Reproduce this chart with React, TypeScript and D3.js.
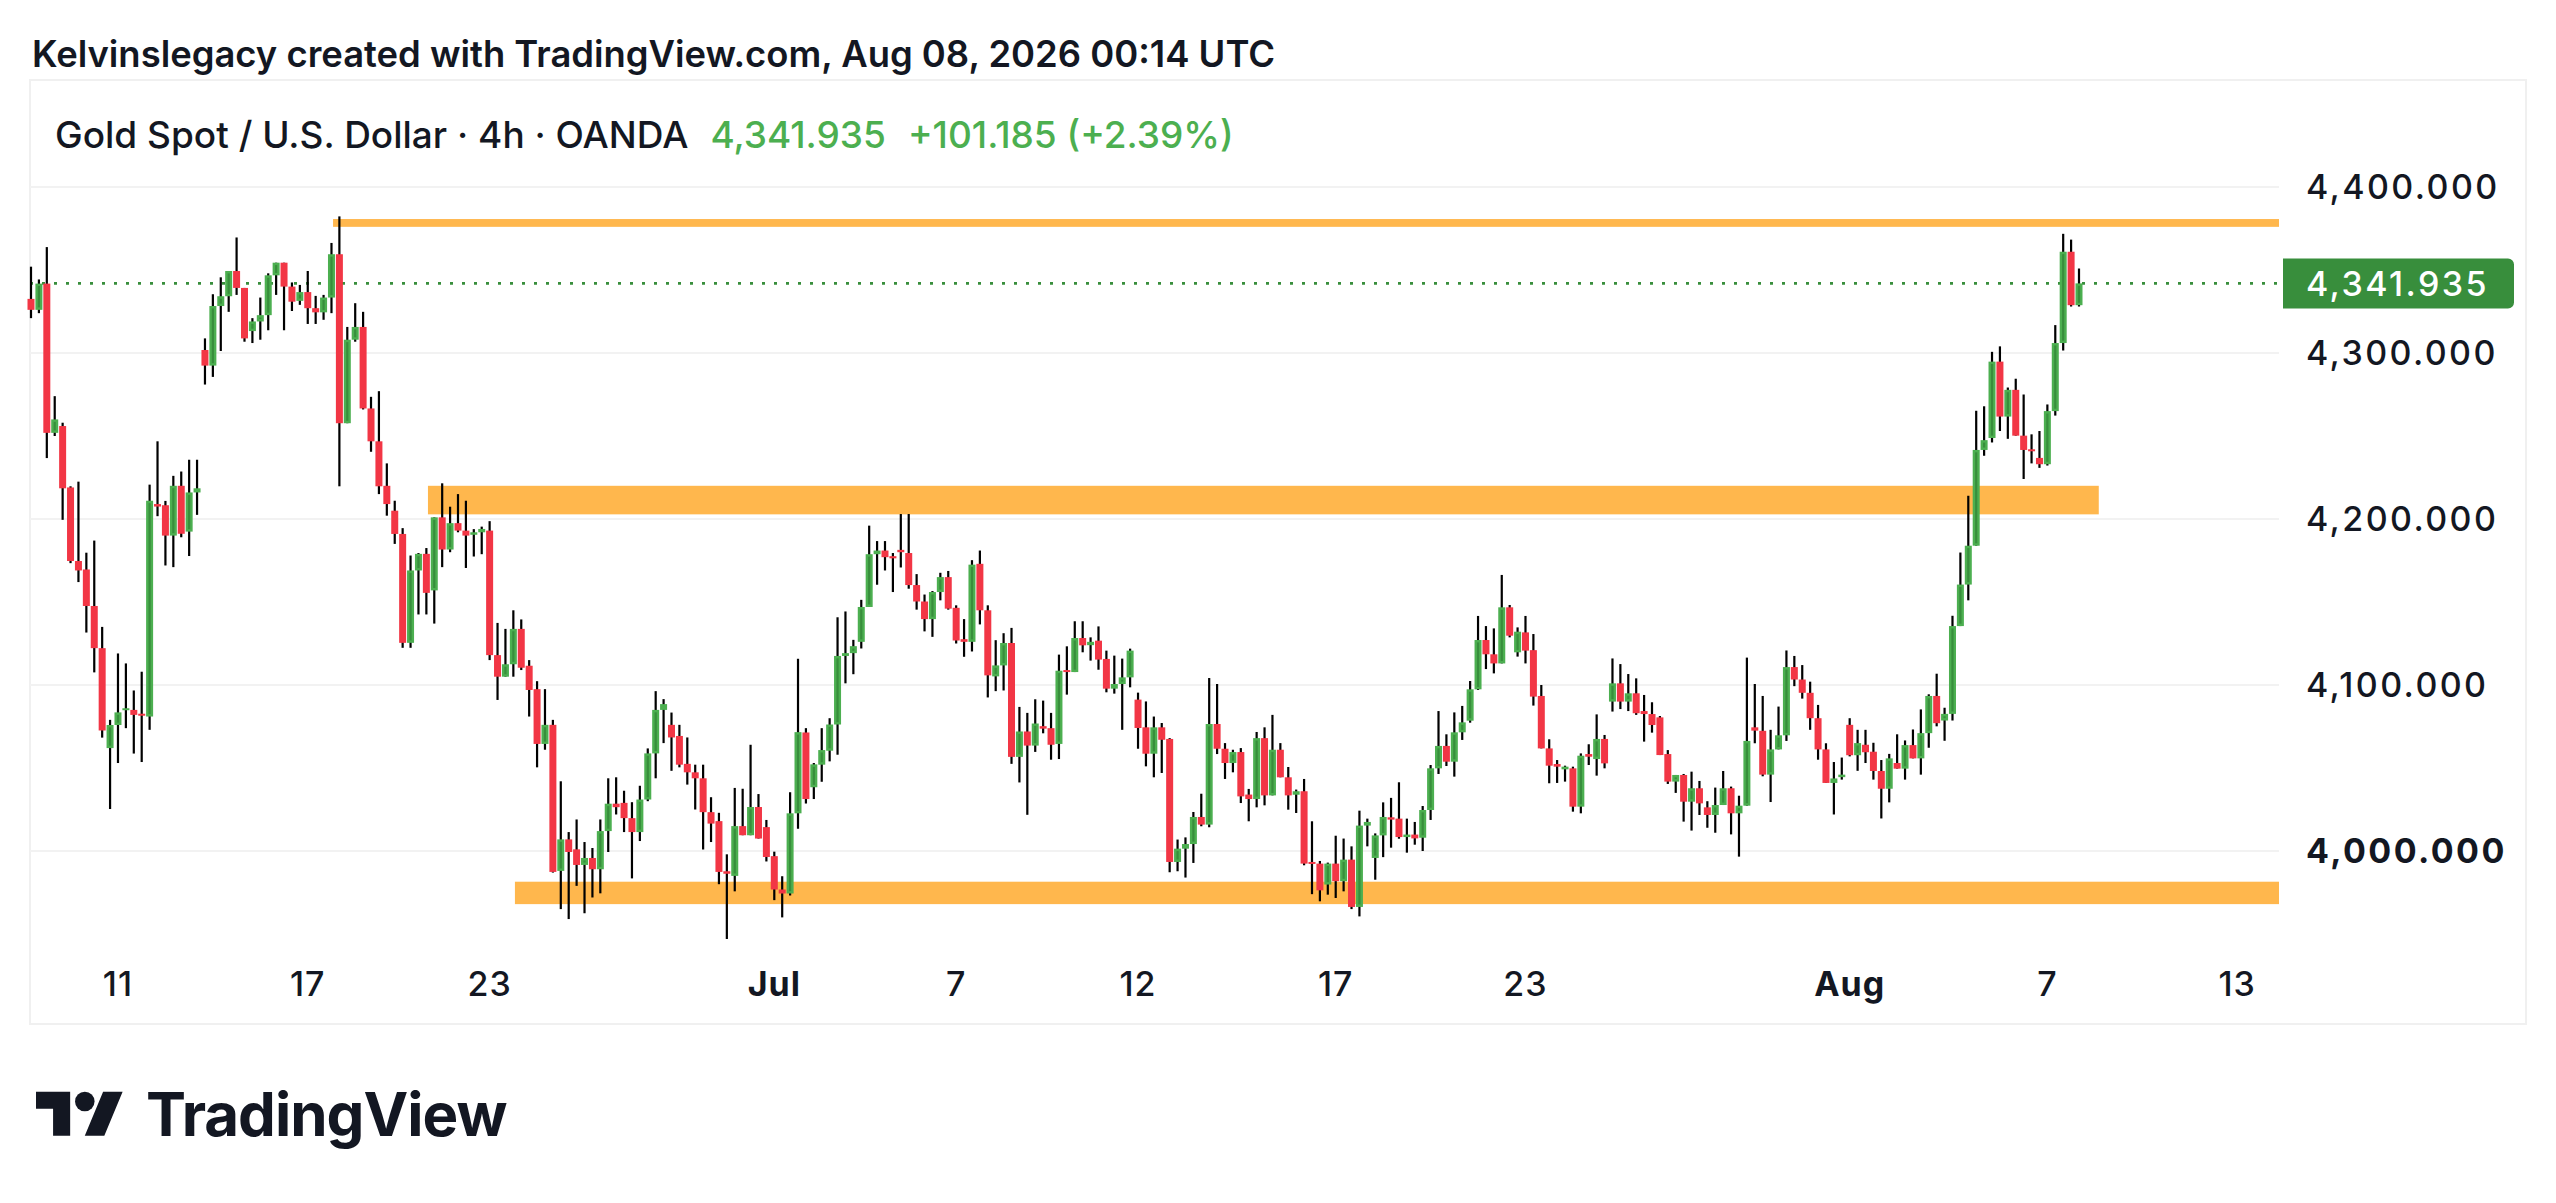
import * as d3 from 'd3';

// 4h candles, XAUUSD (OANDA)
const opens = [
  4332.6, 4326, 4341.8, 4251.9, 4256, 4219, 4174.7, 4169.6, 4147.6, 4122.2,
  4062, 4075.9, 4085, 4085, 4082.7, 4081, 4209, 4208.3, 4190, 4220,
  4192.4, 4216, 4301.8, 4292.4, 4328.3, 4334.2, 4349.4, 4339.2, 4313.2, 4319,
  4322.8, 4346.8, 4354.4, 4340, 4331.4, 4336.7, 4327, 4324.5, 4333.4, 4359.5,
  4257.7, 4308, 4315.7, 4266.6, 4246.8, 4220, 4205, 4191, 4125.4, 4169,
  4179, 4157, 4201, 4181.6, 4197.5, 4193, 4190.5, 4192, 4193, 4118,
  4105, 4112.5, 4133.8, 4111.6, 4097.5, 4064.5, 4076, 3988, 4007, 4001,
  3991.6, 3995.8, 3989, 4012, 4028.5, 4029, 4019.8, 4011.4, 4031, 4058.8,
  4085, 4076, 4069.3, 4052.5, 4047.4, 4043.8, 4023.4, 4018, 3987.8, 3985,
  4015, 4009.5, 4026.5, 4014.4, 3996.9, 3976.8, 3974.4, 4022.7, 4071.4, 4038.4,
  4052, 4060.4, 4076.2, 4117.5, 4119.2, 4126, 4147, 4178.8, 4181, 4177.6,
  4181.4, 4179.5, 4160.2, 4150.3, 4139.7, 4156, 4165, 4146.5, 4127.6, 4126,
  4173, 4145, 4105.2, 4111.8, 4125.3, 4056.7, 4072, 4063.5, 4075.2, 4074,
  4064.5, 4109, 4107.8, 4128.3, 4124, 4126.7, 4115.7, 4097.8, 4100.6, 4104.6,
  4091.2, 4074.5, 4058.6, 4074.5, 4067.5, 3993.4, 4001.4, 4004.2, 4020.5, 4015.9,
  4076.5, 4061.6, 4053, 4059.6, 4034, 4031.3, 4068, 4033.5, 4061, 4044.4,
  4033.9, 4036, 3993.4, 3992.4, 3979.8, 3992.4, 3981.8, 3994.8, 3966.3, 4015.3,
  3995.8, 4009.4, 4020.3, 4019.5, 4008.4, 4009.9, 4008, 4024.7, 4049.8, 4063.3,
  4053.8, 4071.5, 4078.5, 4097.4, 4127.1, 4118.5, 4113, 4146.8, 4119.7, 4131.7,
  4121, 4093.4, 4061.8, 4052.4, 4049.2, 4049.8, 4026.7, 4058.4, 4055.4, 4067.5,
  4090, 4101, 4090, 4095, 4084.3, 4082.5, 4080.5, 4058.4, 4041.8, 4045.8,
  4029.7, 4037.8, 4026.3, 4021.7, 4027.7, 4037.8, 4022.7, 4027.3, 4074.5, 4072.4,
  4046, 4061.2, 4069.7, 4110.8, 4103.3, 4095.3, 4080, 4061.2, 4041, 4044.5,
  4076, 4057.7, 4064, 4059.8, 4048.2, 4037.5, 4053, 4049.6, 4063.8, 4055.8,
  4071, 4093.4, 4078.6, 4082.6, 4135.5, 4160.5, 4183.9, 4241.6, 4248.8, 4294.8,
  4261.7, 4277.8, 4250.2, 4242, 4236.8, 4233, 4265, 4306, 4361, 4328.8,
];
const highs = [
  4352, 4344.3, 4363.8, 4274, 4258, 4219.7, 4222.5, 4179.7, 4187, 4135,
  4079, 4119, 4113, 4096.7, 4108, 4220.7, 4246.8, 4210.9, 4226, 4228.6,
  4235.7, 4235.7, 4308.8, 4335.4, 4345.6, 4349.4, 4369.6, 4339.2, 4321, 4333.4,
  4348, 4354.4, 4354.4, 4342.5, 4341, 4349.4, 4334.4, 4335, 4366.3, 4382.3,
  4315.7, 4330, 4324.8, 4273.6, 4277, 4233.5, 4211, 4194.5, 4178, 4179.5,
  4182.5, 4201, 4221.5, 4207.4, 4215, 4211, 4193.9, 4195.4, 4198.7, 4137.4,
  4133.8, 4145, 4139.5, 4115, 4102.3, 4097.5, 4079, 4042, 4011.4, 4019,
  4005.4, 4001.8, 4019, 4043.8, 4044.4, 4036.3, 4029.4, 4039.3, 4061.8, 4096.3,
  4091.5, 4083.4, 4076, 4068.4, 4052, 4052, 4032.4, 4023, 3998, 4038,
  4037.5, 4064, 4034.3, 4018.7, 3999.6, 3984.8, 4035.4, 4115.8, 4074, 4053,
  4074, 4080, 4140.8, 4144.3, 4127.2, 4151.3, 4196, 4186.7, 4186.7, 4179.5,
  4203, 4203, 4166.8, 4154.5, 4156.6, 4167.6, 4168.7, 4148, 4139.7, 4175.2,
  4181, 4148, 4127, 4131.2, 4134.4, 4086.8, 4083.2, 4091.4, 4090.6, 4083.2,
  4118.3, 4123.3, 4138.4, 4138.4, 4128.7, 4135.3, 4120.7, 4117.7, 4115.9, 4121.9,
  4095.4, 4090.1, 4081, 4077.1, 4068, 4006.9, 4008.2, 4023.5, 4034.5, 4104.2,
  4100.6, 4065, 4061, 4062, 4037.4, 4071.7, 4074.5, 4082, 4065, 4050.6,
  4037, 4043.4, 4017.9, 3994, 3993, 4009.2, 4007.5, 4002.8, 4024.3, 4019.5,
  4010.6, 4029.3, 4032, 4041.4, 4019.5, 4017.5, 4027.1, 4051.8, 4084.3, 4070.3,
  4083.5, 4087.4, 4102.4, 4141.6, 4135.5, 4134.1, 4166.3, 4148.2, 4134.7, 4141.6,
  4130.7, 4100, 4067.3, 4054.8, 4051.4, 4050.8, 4058.8, 4064.3, 4082.3, 4069.9,
  4116, 4112.6, 4106.6, 4104, 4094, 4089.6, 4081.3, 4060.8, 4045.8, 4046.4,
  4047.8, 4042.2, 4030, 4038.2, 4048.2, 4038.8, 4033.3, 4116.5, 4100.6, 4093.4,
  4073, 4087, 4120.8, 4117.5, 4112, 4102, 4088, 4064.9, 4053.6, 4056.3,
  4080, 4073, 4073, 4065.2, 4054.8, 4058.5, 4070.3, 4066.6, 4073.2, 4085.3,
  4094.4, 4106.8, 4086.3, 4141.7, 4179.8, 4214, 4265.2, 4267.9, 4300.7, 4304,
  4279.2, 4284.5, 4275, 4251, 4253, 4269, 4316.8, 4371.8, 4368.3, 4350.9,
];
const lows = [
  4321, 4324, 4236.7, 4250, 4199.5, 4173.4, 4162, 4131.6, 4107.6, 4068.3,
  4025.3, 4053, 4074, 4058.7, 4053.6, 4073, 4201.7, 4172, 4171, 4189,
  4177.7, 4202.5, 4281, 4285.6, 4301.2, 4324.8, 4335, 4306.8, 4306, 4308,
  4313.7, 4335, 4313.7, 4325.3, 4329, 4317.5, 4317.5, 4320, 4324, 4219.7,
  4257.7, 4306.8, 4266, 4240.5, 4215, 4202, 4185, 4122.4, 4122.4, 4142.5,
  4142.5, 4137, 4171, 4180, 4192, 4170.5, 4177.4, 4178.8, 4115, 4091,
  4105, 4105, 4109, 4081, 4050.4, 4061, 3987, 3965, 3959, 3979,
  3962.5, 3972, 3974.5, 3999.4, 4022, 4011.4, 3983.5, 4006, 4030, 4043.8,
  4065, 4048.3, 4050.4, 4040, 4025, 4000.9, 4005.4, 3980, 3947, 3975.7,
  4009.5, 4009.5, 4007.5, 3993.7, 3970.4, 3960, 3973.2, 4013.4, 4028.6, 4031.3,
  4041.7, 4054, 4058, 4101, 4106.5, 4122, 4147, 4160.4, 4169, 4156,
  4170.8, 4158, 4145.4, 4132.3, 4129, 4151, 4145.4, 4125, 4117, 4120.2,
  4136.5, 4092.5, 4096.3, 4096.7, 4052.5, 4041.3, 4021.8, 4059.7, 4070.9, 4055,
  4055.4, 4094.2, 4107.8, 4119.7, 4114.7, 4109.2, 4095.6, 4094.8, 4073, 4098.6,
  4061.6, 4051, 4044.4, 4047, 3987.2, 3987.8, 3984, 3992.8, 4014.9, 4014.3,
  4058.4, 4043.4, 4047.4, 4028.9, 4017.9, 4026.3, 4027.5, 4033.5, 4044.4, 4024.9,
  4022.9, 3991.4, 3974, 3969.7, 3973.7, 3971.7, 3975.7, 3965, 3960.6, 4002.8,
  3982.7, 3996.3, 4002, 4007.4, 3999, 4003.8, 4000, 4018.7, 4046.4, 4051.2,
  4044.8, 4066.9, 4077.3, 4097, 4109.6, 4107, 4113, 4128.7, 4117.1, 4113,
  4087.6, 4061.8, 4040.8, 4041, 4041.8, 4023.7, 4022.7, 4051.8, 4045.4, 4049.8,
  4084, 4085.5, 4084.3, 4082, 4065.9, 4071.3, 4057.8, 4040.4, 4035, 4017.7,
  4012.3, 4021.7, 4014, 4011, 4027.7, 4010, 3996.6, 4027.3, 4064.9, 4045,
  4029.5, 4061.2, 4066.3, 4099.3, 4091.8, 4073, 4055, 4041, 4022, 4043,
  4057, 4048.3, 4053, 4043, 4019.6, 4029.3, 4049.6, 4043, 4055.8, 4046,
  4062.2, 4075.1, 4066.4, 4078.6, 4135.5, 4151, 4183.9, 4238.1, 4246.1, 4253,
  4248.3, 4250.2, 4224.1, 4233.5, 4230.8, 4232.2, 4262.3, 4301.5, 4328, 4328,
];
const closes = [
  4326, 4341.8, 4251.9, 4260, 4218.5, 4174.7, 4169, 4147.6, 4122.2, 4072.6,
  4075.9, 4083.5, 4086, 4082, 4081.5, 4211, 4207.5, 4190, 4220, 4191.1,
  4216, 4218.5, 4292.4, 4328.3, 4334.2, 4349.4, 4339.2, 4308.8, 4319, 4322.8,
  4346.8, 4354.4, 4340, 4330.9, 4336.7, 4327, 4324.5, 4333.4, 4359.5, 4257.7,
  4308, 4315.7, 4266.6, 4246.8, 4219.7, 4209, 4191, 4125.4, 4169, 4179,
  4155.5, 4201, 4181.6, 4197.5, 4193, 4190, 4192, 4194, 4118, 4105,
  4112.5, 4133.8, 4110.4, 4097, 4064.5, 4076, 3987.4, 4007, 3999.4, 3991.6,
  3995.8, 3989, 4012, 4028.5, 4026.4, 4019.8, 4011.4, 4031, 4058.8, 4085,
  4088.5, 4068.4, 4052, 4047.4, 4043.8, 4023.4, 4016.5, 3987.4, 3986.3, 4015,
  4009.5, 4026.5, 4007.5, 3996.4, 3976.8, 3974.4, 4022.7, 4071.6, 4031.3, 4052.2,
  4060.8, 4076.2, 4117.5, 4119.2, 4123.4, 4147, 4178.8, 4181, 4177, 4176.3,
  4180, 4160.2, 4150.3, 4139.7, 4156, 4165, 4146, 4126.8, 4126, 4172.5,
  4145, 4105.8, 4111.8, 4125.3, 4056.7, 4072, 4063.5, 4076.8, 4073.7, 4064,
  4108.6, 4107.8, 4128.3, 4123.9, 4126, 4115.3, 4097.8, 4100.6, 4104.6, 4120.7,
  4074.1, 4058.6, 4074.5, 4067, 3993.4, 4001.4, 4004.2, 4020.5, 4015.9, 4076.5,
  4061.6, 4053, 4059.6, 4032.9, 4031.3, 4068, 4033.5, 4061, 4044.4, 4033.5,
  4036, 3992.4, 3992.2, 3976.3, 3992.4, 3981.8, 3994.8, 3966.3, 4015.3, 4017.5,
  4009.4, 4020.5, 4018.9, 4008.4, 4009.9, 4007.6, 4024.7, 4049.8, 4063.3, 4053.8,
  4071.5, 4077.5, 4097.4, 4127.1, 4118.5, 4113, 4146.8, 4129.7, 4132.1, 4120.7,
  4093, 4061.8, 4051.4, 4050.8, 4050.8, 4026.7, 4057.4, 4056.8, 4067.5, 4052.8,
  4101, 4090, 4095, 4083, 4082.5, 4075.9, 4057.8, 4041.8, 4045.8, 4029.7,
  4037.8, 4028.7, 4021.7, 4027.7, 4037.8, 4022.7, 4027.3, 4066.3, 4072.5, 4046,
  4061.2, 4069.7, 4110.8, 4103.3, 4095.3, 4080, 4061.2, 4041, 4043.7, 4046,
  4057.7, 4065, 4059.5, 4048.2, 4037.5, 4055.8, 4049.6, 4063.8, 4055.8, 4071,
  4093.4, 4077, 4082.6, 4135.5, 4160.5, 4183.9, 4241.6, 4247.5, 4294.8, 4261.7,
  4277.8, 4250.2, 4241.6, 4240.8, 4233, 4265, 4306, 4361, 4328.8, 4341.935,
];

const priceTicks = [4000, 4100, 4200, 4300, 4400];
const boldPriceTicks = [4000];

// candle index of each date label on the time scale
const timeTickIndex = [11, 35, 58, 94, 117, 140, 165, 189, 230, 255, 279];
const timeTickLabel = ['11', '17', '23', 'Jul', '7', '12', '17', '23', 'Aug', '7', '13'];
const timeTickBold = [false, false, false, true, false, false, false, false, true, false, false];

// drawn zones: start / end candle index (null = to the price scale), price range
const zoneStart = [38.2, 50.2, 61.2];
const zoneEnd = [null, 261.5, null];
const zoneTop = [4380.7, 4220, 3981.5];
const zoneBottom = [4376, 4202.8, 3968];

const lastPrice = 4341.935;
const change = 101.185;
const changePct = 2.39;

const W = 2556;
const H = 1203;
const panel = { left: 30, top: 80, right: 2526, bottom: 1024 };
const plotRight = 2279;

const UP = '#388e3c';
const UP_EDGE = '#4caf50';
const DOWN = '#f23645';
const ZONE = '#ffb74d';
const TEXT = '#131722';
const FONT = 'Inter, "Noto Sans", sans-serif';

export default function App() {
  const x = d3.scaleLinear().domain([0, closes.length - 1]).range([31, 2079]);
  const y = d3.scaleLinear().domain([4000, 4400]).range([851, 187]);

  const fmt = d3.format(',.3f');
  const bodyW = 7;
  const wickW = 2.2;

  const candles = closes.map((c, i) => {
    const o = opens[i];
    const up = c >= o;
    const cx = x(i);
    const yTop = y(Math.max(o, c));
    const yBot = y(Math.min(o, c));
    const h = Math.max(yBot - yTop, 2);
    return (
      <g key={i}>
        <rect x={cx - wickW / 2} y={y(highs[i])} width={wickW} height={y(lows[i]) - y(highs[i])} fill="#000" />
        {up ? (
          h > 6 ? (
            <rect x={cx - bodyW / 2 + 1.2} y={yTop + 1.2} width={bodyW - 2.4} height={h - 2.4}
              fill={UP} stroke={UP_EDGE} strokeWidth={2.4} />
          ) : (
            <rect x={cx - bodyW / 2} y={yTop} width={bodyW} height={h} fill={UP_EDGE} />
          )
        ) : (
          <rect x={cx - bodyW / 2} y={yTop} width={bodyW} height={h} fill={DOWN} />
        )}
      </g>
    );
  });

  const yLast = y(lastPrice);

  return (
    <svg width={W} height={H} style={{ position: 'absolute', left: 0, top: 0, background: '#fff' }}
      fontFamily={FONT}>
      <rect width={W} height={H} fill="#fff" />
      <text x={32} y={54} dy="0.35em" fontSize={36.4} fontWeight={600} fill={TEXT}>
        Kelvinslegacy created with TradingView.com, Aug 08, 2026 00:14 UTC
      </text>

      <rect x={panel.left} y={panel.top} width={panel.right - panel.left} height={panel.bottom - panel.top}
        fill="#fff" stroke="#f0f0f0" strokeWidth={2} />

      {priceTicks.map(p => (
        <line key={p} x1={panel.left} x2={plotRight} y1={y(p)} y2={y(p)} stroke="#f2f2f2" strokeWidth={2} />
      ))}

      {zoneStart.map((s, i) => (
        <rect key={i} x={x(s)} y={y(zoneTop[i])}
          width={(zoneEnd[i] === null ? plotRight : x(zoneEnd[i] as number)) - x(s)}
          height={y(zoneBottom[i]) - y(zoneTop[i])} fill={ZONE} />
      ))}

      <line x1={panel.left} x2={plotRight} y1={yLast} y2={yLast} stroke={UP} strokeWidth={2.6}
        strokeDasharray="3 9" />

      <g>{candles}</g>

      <text x={55} y={135} dy="0.35em" fontSize={37} fontWeight={500} fill={TEXT}>
        Gold Spot / U.S. Dollar · 4h · OANDA
        <tspan dx={22} fill={UP_EDGE}>{d3.format(',.3f')(lastPrice)}</tspan>
        <tspan dx={22} fill={UP_EDGE}>{`+${d3.format('.3f')(change)} (+${changePct.toFixed(2)}%)`}</tspan>
      </text>

      {priceTicks.map(p => (
        <text key={p} x={2306} y={y(p)} dy="0.36em" fontSize={34} fontWeight={boldPriceTicks.includes(p) ? 700 : 500}
          letterSpacing={2.4} fill={TEXT}>
          {fmt(p)}
        </text>
      ))}

      <path d={`M2283,${yLast - 25}H2508a6,6 0 0 1 6,6V${yLast + 19}a6,6 0 0 1 -6,6H2283Z`} fill={UP} />
      <text x={2306} y={yLast} dy="0.36em" fontSize={34} fontWeight={500} letterSpacing={2.4} fill="#fff">
        {fmt(lastPrice)}
      </text>

      {timeTickIndex.map((t, i) => (
        <text key={i} x={x(t)} y={984} dy="0.36em" textAnchor="middle" fontSize={34}
          fontWeight={timeTickBold[i] ? 700 : 500} letterSpacing={1} fill={TEXT}>
          {timeTickLabel[i]}
        </text>
      ))}

      <g transform="translate(36,1082) scale(2.44)" fill="#131722">
        <path d="M14 22H7V11H0V4h14v18zM28 22h-8l7.5-18h8L28 22z" />
        <circle cx={20} cy={8} r={4} />
      </g>
      <text x={146} y={1136} fontSize={60} fontWeight={700} fill="#131722" letterSpacing={-1}>
        TradingView
      </text>
    </svg>
  );
}
